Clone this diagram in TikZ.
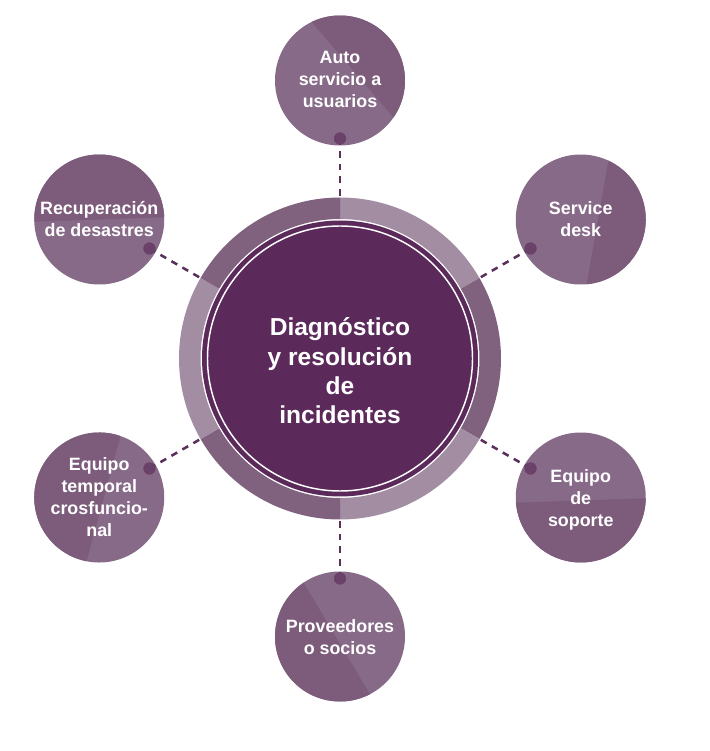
\documentclass[tikz,border=0pt]{standalone}
\usepackage{fontspec}
\setmainfont{Liberation Sans}
\usetikzlibrary{calc}
\definecolor{corec}{HTML}{5B2A5B}
\definecolor{ringlight}{HTML}{A28DA3}
\definecolor{ringdark}{HTML}{80627F}
\definecolor{satlight}{HTML}{876988}
\definecolor{satdark}{HTML}{7C5B7B}
\definecolor{dotc}{HTML}{6A4269}
\definecolor{dashc}{HTML}{5A2F5C}
\tikzset{
  sat/.style={circle, minimum size=97.5pt, inner sep=0pt, text=white, align=center,
    font=\fontsize{13.4}{16.5}\selectfont\bfseries},
  dotnode/.style={circle, fill=dotc, minimum size=9pt, inner sep=0pt},
  conn/.style={dashc, line width=1.9pt, dash pattern=on 5pt off 4.5pt},
  title/.style={text=white, align=center, font=\fontsize{18.4}{22}\selectfont\bfseries}
}
\begin{document}
\begin{tikzpicture}[x=0.75pt,y=0.75pt]
\useasboundingbox (0,0) rectangle (710,751);
\fill[white] (0,0) rectangle (710,751);
\coordinate (C) at (340,392.5);
\foreach \i/\a in {1/90,2/30,3/-30,4/-90,5/210,6/150}
  \coordinate (s\i) at ($(C)+(\a:278)$);
% ring segments
\foreach \s/\e/\c in {30/90/ringlight,-30/30/ringdark,-90/-30/ringlight,-150/-90/ringdark,150/210/ringlight,90/150/ringdark}
  \fill[\c] ($(C)+(\s:161)$) arc[start angle=\s,end angle=\e,radius=161]
    -- ($(C)+(\e:139.5)$) arc[start angle=\e,end angle=\s,radius=139.5] -- cycle;
\node[circle, minimum size=241.5pt, inner sep=0pt] (ring) at (C) {};
\node[circle, fill=corec, minimum size=207pt, inner sep=0pt] (core) at (C) {};
\draw[white, line width=1.1pt] (C) circle (132.5);
\node[title] (t) at (340,380) {Diagnóstico\\y resolución\\de\\incidentes};
% satellite two-tone backgrounds
\foreach \i/\phi/\d in {1/40.6/16.6,2/-10/17,3/-88/3,4/210.7/3.8,5/164.8/-4.4,6/92/0}{
  \begin{scope}[shift={(s\i)}, rotate=\phi]
    \fill[satlight] (0,0) circle (65);
    \clip (0,0) circle (65);
    \fill[satdark] (\d,-80) rectangle (80,80);
  \end{scope}
}
% connectors and dots
\foreach \i in {1,...,6}{
  \node[dotnode] (d\i) at ($(s\i)!43.5pt!(C)$) {};
}
\foreach \i in {1,...,6}{
  \draw[conn] (d\i.center) -- (ring);
  \node[dotnode] at (d\i) {};
}
\node[sat] (n1) at ($(s1)+(0,1)$) {Auto\\servicio a\\usuarios};
\node[sat] (n2) at (s2) {Service\\desk};
\node[sat] (n3) at ($(s3)+(0,-2)$) {Equipo\\de\\soporte};
\node[sat] (n4) at ($(s4)+(0,-1)$) {Proveedores\\o socios};
\node[sat] (n5) at (s5) {Equipo\\temporal\\crosfuncio-\\nal};
\node[sat] (n6) at (s6) {Recuperación\\de desastres};
\end{tikzpicture}
\end{document}
